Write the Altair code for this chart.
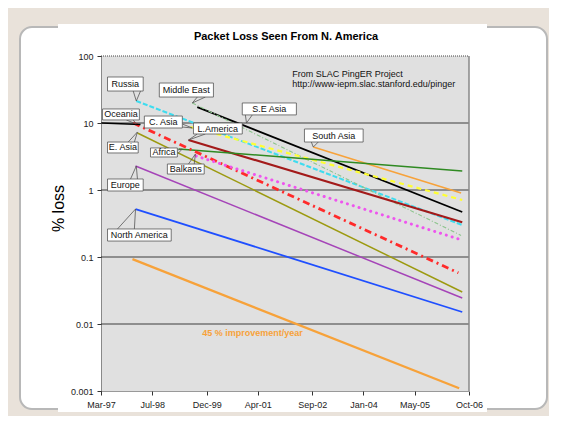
import math
import altair as alt
import pandas as pd

# ---------------- data ----------------
series = ["Russia", "S.E Asia", "Middle East", "L.America", "C. Asia", "South Asia",
          "Africa", "Oceania", "Balkans", "E. Asia", "Europe", "North America",
          "45 % improvement/year", "Oceania 1997"]
start_year = [1998.12, 1999.71, 1999.58, 1999.48, 1999.53, 2002.73, 1999.22,
              1998.04, 1999.68, 1998.15, 1998.10, 1998.10, 1998.02, 1997.21]
start_loss = [21.3, 17.3, 19.9, 5.57, 8.72, 4.39, 4.1, 10.0, 3.21, 7.1, 2.28, 0.52, 0.093, 10.0]
end_year = [2006.61, 2006.61, 2006.58, 2006.61, 2006.61, 2006.58, 2006.61,
            2006.51, 2006.51, 2006.61, 2006.61, 2006.61, 2006.53, 1998.23]
end_loss = [0.30, 0.47, 0.21, 0.33, 0.71, 0.90, 1.92, 0.058, 0.186, 0.030, 0.0244, 0.0151, 0.0011, 9.5]

# callout boxes (decimal year / % loss)
call_label = ["Russia", "Middle East", "Oceania", "C. Asia", "L.America", "S.E Asia",
              "South Asia", "E. Asia", "Africa", "Balkans", "Europe", "North America"]
box_x1 = [1997.37, 1998.72, 1997.24, 1998.33, 1999.61, 2000.88, 2002.50, 1997.37, 1998.49, 1998.93, 1997.37, 1997.37]
box_x2 = [1998.30, 2000.13, 1998.20, 1999.32, 2000.88, 2002.29, 2004.03, 1998.17, 1999.19, 1999.89, 1998.30, 1999.03]
box_lo = [30.0, 24.4, 11.1, 8.42, 6.85, 13.2, 5.2, 3.57, 3.11, 1.73, 0.966, 0.173]
box_hi = [48.6, 39.5, 16.2, 12.7, 10.0, 19.9, 8.14, 5.2, 4.24, 2.44, 1.46, 0.262]
# callout pointers: base1, tip, base2
tail_b1_year = [1998.04, 1999.71, 1997.86, 1999.32, 1999.71, 2000.96, 2002.68, 1997.91, 1999.19, 1999.48, 1997.97, 1997.63]
tail_b1_loss = [30.0, 24.4, 11.1, 9.66, 6.85, 13.2, 5.2, 5.2, 3.95, 2.44, 1.46, 0.262]
tail_tip_year = [1998.12, 1999.58, 1998.12, 1999.58, 1999.48, 2000.99, 2002.73, 1998.15, 1999.32, 1999.66, 1998.12, 1998.10]
tail_tip_loss = [21.3, 19.9, 9.66, 8.42, 5.57, 10.0, 4.38, 7.34, 4.09, 3.44, 2.28, 0.52]
tail_b2_year = [1998.23, 1999.92, 1998.04, 1999.32, 1999.92, 2001.14, 2002.86, 1998.07, 1999.19, 1999.63, 1998.15, 1998.07]
tail_b2_loss = [30.0, 24.4, 11.1, 8.71, 6.85, 13.2, 5.2, 5.2, 3.44, 2.44, 1.46, 0.262]

note_lines = ["From SLAC PingER Project", "http://www-iepm.slac.stanford.edu/pinger"]
note_year = [2002.18, 2002.18]
note_loss = [53.8, 38.2]
trend_label = ["45 % improvement/year"]
trend_year = [1999.84]
trend_loss = [0.00734]

tick_months = [(1997, 3), (1998, 7), (1999, 12), (2001, 4), (2002, 9), (2004, 1), (2005, 5), (2006, 10)]
decades = [0.001, 0.01, 0.1, 1, 10, 100]
grid_decades = [0.01, 0.1, 1, 10]

# ---------------- styles ----------------
line_color = ["#3fdcef", "#000000", "#8cc48c", "#a31a1a", "#ffff33", "#f7a23a", "#2f8a22",
              "#ff2a2a", "#ee55ee", "#9c9a10", "#a544b8", "#1f4fff", "#f7a23a", "#000000"]
line_width = [2, 1.8, 1.1, 2.2, 2.2, 1.6, 1.5, 2.8, 3, 1.5, 1.5, 1.8, 2.3, 1.4]
line_dash = [[5, 2], None, [4, 2, 1, 2], None, [5, 4], None, None,
             [7, 4, 2, 4], [0.1, 6], None, None, None, None, None]
FONT = "Liberation Sans"


def to_date(y):
    yr = int(math.floor(y))
    start = pd.Timestamp(yr, 1, 1)
    days = (pd.Timestamp(yr + 1, 1, 1) - start).days
    return (start + pd.Timedelta(days=(y - yr) * days)).strftime("%Y-%m-%dT%H:%M")


x_scale = alt.Scale(domain=[alt.DateTime(year=1997, month=3, date=15),
                            alt.DateTime(year=2006, month=10, date=15)])
y_scale = alt.Scale(type="log", domain=[0.001, 100])
x_axis = alt.Axis(values=[alt.DateTime(year=y, month=m, date=15) for y, m in tick_months],
                  format="%b-%y", title=None, grid=False, labelFont=FONT, labelFontSize=9,
                  labelColor="#222", labelPadding=5, labelFlush=False, labelOverlap=False,
                  tickSize=4, tickColor="#333", domainColor="#333", domainDash=[1, 1], zindex=1)
y_axis = alt.Axis(values=decades, format="~g", title="% loss", grid=False, labelFont=FONT,
                  labelFontSize=9, labelColor="#222", labelPadding=4, tickSize=4, tickColor="#333",
                  domainColor="#333", domainDash=[1, 1], labelFlush=False, zindex=1,
                  titleFont=FONT, titleFontSize=16, titleFontWeight="normal", titleColor="#000",
                  titleX=-43, titleY=152, titleAngle=270, titleAlign="center", titleBaseline="middle")


def X(f):
    return alt.X(f"{f}:T", scale=x_scale, axis=x_axis)


def Y(f):
    return alt.Y(f"{f}:Q", scale=y_scale, axis=y_axis)


dummy = pd.DataFrame({"k": [0]})

panel = alt.Chart(dummy).mark_rect(fill="white", stroke="#b8b8b8", strokeWidth=2, cornerRadius=12).encode(
    x=alt.value(-81), x2=alt.value(446), y=alt.value(-29), y2=alt.value(353))
excel_area = alt.Chart(dummy).mark_rect(fill="white").encode(
    x=alt.value(-43), x2=alt.value(386), y=alt.value(-32), y2=alt.value(356))
plot_bg = alt.Chart(dummy).mark_rect(fill="#e0e0e0").encode(
    x=alt.value(0), x2=alt.value(368), y=alt.value(0), y2=alt.value(335))

grid = alt.Chart(pd.DataFrame({"v": grid_decades})).mark_rule(color="#3c3c3c", strokeWidth=1).encode(y=Y("v"))

line_layers = []
for i, name in enumerate(series):
    df = pd.DataFrame({"series": [name, name],
                       "date": [to_date(start_year[i]), to_date(end_year[i])],
                       "loss": [start_loss[i], end_loss[i]]})
    kw = dict(color=line_color[i], strokeWidth=line_width[i])
    if line_dash[i] is not None:
        kw["strokeDash"] = line_dash[i]
    if name == "Balkans":
        kw["strokeCap"] = "round"
    line_layers.append(alt.Chart(df).mark_line(**kw).encode(x=X("date"), y=Y("loss")))

top_border = alt.Chart(dummy).mark_rule(color="#444", strokeDash=[1, 1]).encode(
    x=alt.value(0), x2=alt.value(368), y=alt.value(0))
right_border = alt.Chart(dummy).mark_rule(color="#888", strokeWidth=1.5).encode(
    x=alt.value(368), y=alt.value(0), y2=alt.value(335))

tail_rows = []
for i, lab in enumerate(call_label):
    tail_rows.append({"callout": lab, "seq": 0, "date": to_date(tail_b1_year[i]), "loss": tail_b1_loss[i]})
    tail_rows.append({"callout": lab, "seq": 1, "date": to_date(tail_tip_year[i]), "loss": tail_tip_loss[i]})
    tail_rows.append({"callout": lab, "seq": 2, "date": to_date(tail_b2_year[i]), "loss": tail_b2_loss[i]})
tails = alt.Chart(pd.DataFrame(tail_rows)).mark_line(color="#555", strokeWidth=0.8).encode(
    x=X("date"), y=Y("loss"), detail="callout:N", order="seq:Q")

box_df = pd.DataFrame({
    "label": call_label,
    "x1": [to_date(v) for v in box_x1],
    "x2": [to_date(v) for v in box_x2],
    "xm": [to_date((a + b) / 2) for a, b in zip(box_x1, box_x2)],
    "lo": box_lo, "hi": box_hi,
    "ym": [math.sqrt(a * b) for a, b in zip(box_lo, box_hi)],
})
boxes = alt.Chart(box_df).mark_rect(fill="white", stroke="#555", strokeWidth=0.8).encode(
    x=X("x1"), x2=alt.X2("x2:T"), y=Y("lo"), y2=alt.Y2("hi:Q"))
box_text = alt.Chart(box_df).mark_text(font=FONT, fontSize=9, color="#111", align="center",
                                       baseline="middle").encode(x=X("xm"), y=Y("ym"), text="label:N")

notes = alt.Chart(pd.DataFrame({"t": note_lines, "date": [to_date(v) for v in note_year],
                                "loss": note_loss})).mark_text(
    font=FONT, fontSize=9, color="#111", align="left", baseline="middle").encode(
    x=X("date"), y=Y("loss"), text="t:N")
trend_text = alt.Chart(pd.DataFrame({"t": trend_label, "date": [to_date(v) for v in trend_year],
                                     "loss": trend_loss})).mark_text(
    font=FONT, fontSize=9, fontWeight="bold", color="#f7a23a", align="left", baseline="middle").encode(
    x=X("date"), y=Y("loss"), text="t:N")

title = alt.Chart(dummy).mark_text(text="Packet Loss Seen From N. America", font=FONT, fontSize=11,
                                   fontWeight="bold", color="#000", align="center",
                                   baseline="middle").encode(x=alt.value(185), y=alt.value(-19))

chart = alt.layer(panel, excel_area, plot_bg, grid, *line_layers, top_border, right_border,
                  tails, boxes, box_text, notes, trend_text, title).properties(
    width=368, height=335,
    padding={"left": 93, "top": 48, "right": 80, "bottom": 25},
    autosize=alt.AutoSizeParams(type="none"),
    background="#e9e2da",
).configure_view(stroke=None)

chart.save("out.html", embed_options={"renderer": "svg", "actions": False})
